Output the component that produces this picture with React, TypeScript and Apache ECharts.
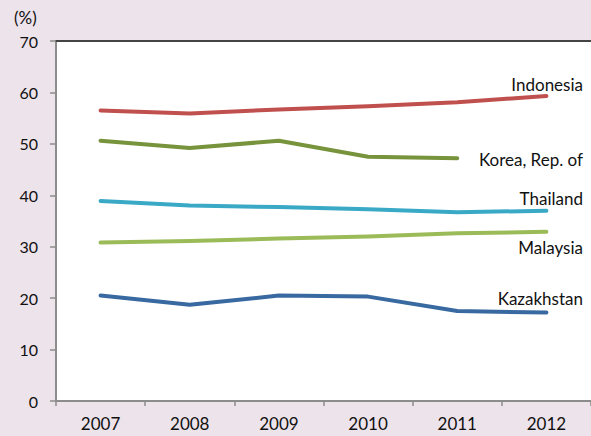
import React, { useEffect, useRef } from "react";
import * as echarts from "echarts";

const years = ["2007", "2008", "2009", "2010", "2011", "2012"];
const indonesia = [56.5, 55.9, 56.7, 57.3, 58.1, 59.3];
const korea = [50.6, 49.2, 50.6, 47.5, 47.2, null];
const thailand = [38.9, 38.0, 37.7, 37.3, 36.7, 37.0];
const malaysia = [30.8, 31.1, 31.6, 32.0, 32.6, 32.9];
const kazakhstan = [20.5, 18.7, 20.5, 20.3, 17.5, 17.2];
const yTicks = { min: 0, max: 70, interval: 10 };

const seriesDefs = [
  { name: "Indonesia", data: indonesia, color: "#c0504d", labelY: 84 },
  { name: "Korea, Rep. of", data: korea, color: "#77933c", labelY: 159 },
  { name: "Thailand", data: thailand, color: "#3aa9c6", labelY: 198 },
  { name: "Malaysia", data: malaysia, color: "#9bbb59", labelY: 247 },
  { name: "Kazakhstan", data: kazakhstan, color: "#3869a0", labelY: 298 },
];

const FONT = "Lato, 'Open Sans', sans-serif";

export default function App() {
  const ref = useRef<HTMLDivElement>(null);
  useEffect(() => {
    if (!ref.current) return;
    const chart = echarts.init(ref.current, undefined, { renderer: "svg" });
    chart.setOption({
      animation: false,
      backgroundColor: "#ede3eb",
      grid: { left: 56, right: -5, top: 41, bottom: 35, show: true, backgroundColor: "#ffffff", borderWidth: 0 },
      xAxis: [
        {
          type: "category",
          data: years,
          boundaryGap: true,
          axisLine: { lineStyle: { color: "#8c8c8c", width: 2 } },
          axisTick: { show: true, length: 5, lineStyle: { color: "#8c8c8c", width: 1.5 } },
          axisLabel: { color: "#111", fontSize: 17, fontFamily: FONT, margin: 14 },
        },
        {
          type: "category",
          data: years,
          position: "top",
          axisLine: { lineStyle: { color: "#444", width: 2 } },
          axisTick: { show: false },
          axisLabel: { show: false },
        },
      ],
      yAxis: {
        type: "value",
        min: yTicks.min,
        max: yTicks.max,
        interval: yTicks.interval,
        axisLine: { show: true, lineStyle: { color: "#8c8c8c", width: 2 } },
        axisTick: { show: true, length: 6, lineStyle: { color: "#8c8c8c", width: 1.5 } },
        splitLine: { show: false },
        axisLabel: { color: "#111", fontSize: 16, fontFamily: FONT, margin: 18 },
      },
      series: seriesDefs.map((s) => ({
        name: s.name,
        type: "line",
        data: s.data,
        symbol: "none",
        lineStyle: { color: s.color, width: 4, cap: "round", join: "round" },
        itemStyle: { color: s.color },
      })),
      graphic: [
        {
          type: "text",
          left: 14,
          top: 9,
          style: { text: "(%)", fontSize: 17, fontFamily: FONT, fill: "#111" },
        },
        ...seriesDefs.map((s) => ({
          type: "text",
          x: 583,
          y: s.labelY,
          style: {
            text: s.name,
            fontSize: 17,
            fontFamily: FONT,
            fill: "#111",
            align: "right",
            verticalAlign: "middle",
          },
        })),
      ],
    });
    return () => chart.dispose();
  }, []);
  return (
    <div
      ref={ref}
      style={{ position: "fixed", left: 0, top: 0, width: 591, height: 436 }}
    />
  );
}
